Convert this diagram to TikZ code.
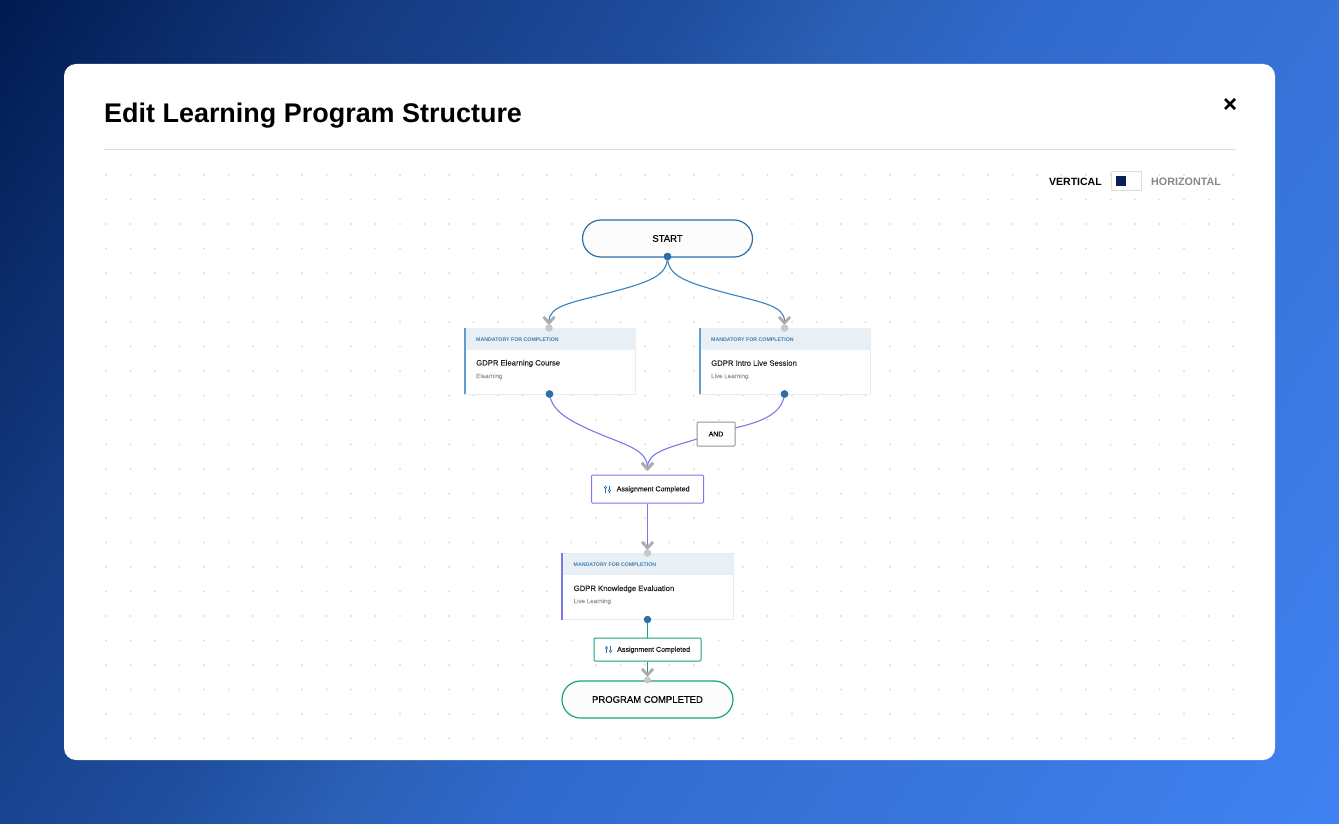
\documentclass[tikz,border=0pt]{standalone}
\usepackage{fontspec}
\setmainfont{Liberation Sans}
\newfontfamily\medfont[FakeBold=0.25]{Liberation Sans}
\usetikzlibrary{arrows.meta,shapes.misc}
\definecolor{gA}{HTML}{001A50}
\definecolor{gB}{HTML}{14397F}
\definecolor{gC}{HTML}{1F4E9F}
\definecolor{gD}{HTML}{2B60B5}
\definecolor{gE}{HTML}{3069CC}
\definecolor{gF}{HTML}{3773D8}
\definecolor{gG}{HTML}{4082F2}
\pgfdeclarehorizontalshading{bggrad}{100bp}{
  color(0bp)=(gA); color(25bp)=(gA); color(34.5bp)=(gB); color(43.5bp)=(gC);
  color(48bp)=(gD); color(52.5bp)=(gE); color(61bp)=(gF); color(75bp)=(gG); color(100bp)=(gG)}
\definecolor{ruleC}{HTML}{DDDDDD}
\definecolor{dotC}{HTML}{DEDEDE}
\definecolor{blueC}{HTML}{2A6FA8}
\definecolor{lineB}{HTML}{3A82BC}
\definecolor{barC}{HTML}{5B9FD4}
\definecolor{purpleC}{HTML}{7B78E8}
\definecolor{greenC}{HTML}{1AA37A}
\definecolor{headC}{HTML}{E8EFF5}
\definecolor{headT}{HTML}{3F7FB0}
\definecolor{chevC}{HTML}{ABABB0}
\definecolor{portC}{HTML}{C8C8C8}
\definecolor{navyC}{HTML}{0A1F55}
\definecolor{subC}{HTML}{999999}
\definecolor{horC}{HTML}{85898D}
\definecolor{edgeC}{HTML}{E9EBED}
\newcommand{\fs}[1]{\fontsize{#1}{#1}\selectfont}
\newcommand{\slidericon}{%
  \draw[slider] (-2,-3.5) -- (-2,3.5) (2,-3.5) -- (2,3.5);
  \filldraw[slider,fill=white] (-2,-1.5) circle (1.2) (2,1.5) circle (1.2);}
\tikzset{
  x=1pt,y=-1pt,
  pill/.style={rounded rectangle,draw,fill=white!50!gray!5,line width=1.2pt,minimum width=170pt,minimum height=37pt,inner sep=0pt,font=\medfont\fs{9.5},text=black},
  card/.style={rectangle,draw=edgeC,fill=white,line width=.8pt,minimum width=171pt,minimum height=66pt,inner sep=0pt},
  cardhead/.style={rectangle,fill=headC,minimum width=171pt,minimum height=21.5pt,inner sep=0pt},
  headtext/.style={anchor=west,inner sep=0pt,text=headT,font=\bfseries\fs{5.25}},
  titletext/.style={anchor=west,inner sep=0pt,text=black!85,font=\medfont\fs{7.7}},
  subtext/.style={anchor=west,inner sep=0pt,text=subC,font=\medfont\fs{6.2}},
  condbox/.style={rectangle,rounded corners=1pt,draw,fill=white,line width=1pt,inner sep=0pt},
  condtext/.style={anchor=west,inner sep=0pt,text=black!90,font=\medfont\fs{7.05}},
  outport/.style={circle,fill=blueC,minimum size=7.5pt,inner sep=0pt},
  inport/.style={circle,fill=portC,minimum size=7.5pt,inner sep=0pt},
  edgeline/.style={line width=1.1pt,-{Straight Barb[length=6pt,width=11pt,line width=2.8pt,color=chevC]}},
  plainline/.style={line width=1.1pt},
  slider/.style={draw=blueC,line width=.6pt},
}
\begin{document}
\begin{tikzpicture}
\useasboundingbox (0,0) rectangle (1339,824);
\begin{scope}[transform canvas={shift={(669.5,412)},rotate=-33}]
\shade[shading=bggrad] (-786,-1000) rectangle (786,1000);
\end{scope}
\fill[white,rounded corners=12pt] (64,64) rectangle (1275,760);
\foreach \i in {0,...,46}{\foreach \j in {0,...,23}{
  \fill[dotC] ({106+24.5*\i},{175+24.5*\j}) circle (1.2);
}}
\node[anchor=west,inner sep=0pt,font=\bfseries\fs{26.95},text=black] (title) at (104,116) {Edit Learning Program Structure};
\coordinate (ruleL) at (104,149.5);
\coordinate (ruleR) at (1236,149.5);
\draw[ruleC,line width=1pt] (ruleL) -- (ruleR);
\coordinate (xa) at (1225,99);
\coordinate (xb) at (1235,109);
\coordinate (xc) at (1235,99);
\coordinate (xd) at (1225,109);
\draw[black,line width=2.6pt] (xa) -- (xb) (xc) -- (xd);
\node[anchor=west,inner sep=0pt,font=\bfseries\fs{10.5},text=black] (vert) at (1049,181.5) {VERTICAL};
\node[rectangle,draw=ruleC,fill=white,line width=.8pt,minimum width=30pt,minimum height=19pt,inner sep=0pt] (toggle) at (1126,180.5) {};
\node[rectangle,fill=navyC,minimum size=10pt,inner sep=0pt] (knob) at (1121,181) {};
\node[anchor=west,inner sep=0pt,font=\bfseries\fs{10.75},text=horC] (horiz) at (1151,181.5) {HORIZONTAL};

% connectors
\node[pill,draw=blueC] (start) at (667.5,238.5) {\raisebox{-1pt}{START}};
\coordinate (e1) at (549,325);
\coordinate (e2) at (784.5,325);
\node[outport] (so) at (667.5,256.5) {};
\draw[lineB,edgeline] (so.center) .. controls (667.5,276) and (650,282) .. (608,293) .. controls (570,303) and (549,306) .. (e1);
\draw[lineB,edgeline] (so.center) .. controls (667.5,276) and (685,282) .. (726,293) .. controls (764,303) and (784.5,306) .. (e2);
\node[outport] (so2) at (667.5,256.5) {};

% cards
\node[card] (c1) at (550,361) {};
\node[cardhead] (c1h) at (550,338.8) {};
\draw[barC,line width=2pt] ([xshift=.5pt]c1.north west) -- ([xshift=.5pt]c1.south west);
\node[headtext] (c1a) at (476,339.5) {MANDATORY FOR COMPLETION};
\node[titletext] (c1b) at (476,363.5) {GDPR Elearning Course};
\node[subtext] (c1c) at (476,376.5) {Elearning};
\node[inport] (c1i) at (549,328) {};
\node[outport] (c1o) at (549.5,394) {};

\node[card] (c2) at (785,361) {};
\node[cardhead] (c2h) at (785,338.8) {};
\draw[barC,line width=2pt] ([xshift=.5pt]c2.north west) -- ([xshift=.5pt]c2.south west);
\node[headtext] (c2a) at (711,339.5) {MANDATORY FOR COMPLETION};
\node[titletext] (c2b) at (711,363) {GDPR Intro Live Session};
\node[subtext] (c2c) at (711,376.5) {Live Learning};
\node[inport] (c2i) at (784.5,328) {};
\node[outport] (c2o) at (784.5,394) {};

\coordinate (e3) at (647.5,471);
\draw[purpleC,edgeline] (c1o.center) .. controls (552,412) and (570,422) .. (607,437) .. controls (630,446) and (647.5,452) .. (e3);
\draw[purpleC,edgeline] (c2o.center) .. controls (782,415) and (760,422) .. (735,428) -- (697,439) .. controls (668,448) and (647.5,452) .. (e3);
\node[outport] (c1o2) at (549.5,394) {};
\node[outport] (c2o2) at (784.5,394) {};
\node[condbox,draw=gray!85,minimum width=38pt,minimum height=24pt,font=\medfont\fs{6.9},text=black] (and) at (716,434) {\raisebox{-1pt}{AND}};

\node[condbox,draw=purpleC,minimum width=112pt,minimum height=28pt] (a1) at (647.5,489) {};
\begin{scope}[shift={(607.5,489)}]
  \slidericon
\end{scope}
\node[condtext] (a1t) at (616.5,489.5) {Assignment Completed};

\node[card] (c3) at (647.5,586.5) {};
\node[cardhead] (c3h) at (647.5,564.3) {};
\draw[purpleC,line width=2pt] ([xshift=.5pt]c3.north west) -- ([xshift=.5pt]c3.south west);
\node[headtext] (c3a) at (573.5,564.5) {MANDATORY FOR COMPLETION};
\node[titletext] (c3b) at (573.5,589) {GDPR Knowledge Evaluation};
\node[subtext] (c3c) at (573.5,601.5) {Live Learning};
\node[inport] (c3i) at (647.5,553) {};
\coordinate (e4) at (647.5,550);
\draw[purpleC,edgeline] (a1) -- (e4);

\node[condbox,draw=greenC,minimum width=107pt,minimum height=23pt] (a2) at (647.5,649.5) {};
\begin{scope}[shift={(608.5,649.5)}]
  \slidericon
\end{scope}
\node[condtext] (a2t) at (617,650) {Assignment Completed};
\node[outport] (c3o) at (647.5,619.5) {};
\draw[greenC,plainline] (c3o) -- (a2);

\node[pill,draw=greenC,minimum width=171pt] (end) at (647.5,699.5) {\raisebox{-.5pt}{PROGRAM COMPLETED}};
\coordinate (e5) at (647.5,677);
\draw[greenC,edgeline] (a2) -- (e5);
\node[inport,minimum size=7pt] (endi) at (647.5,680) {};
\end{tikzpicture}
\end{document}
